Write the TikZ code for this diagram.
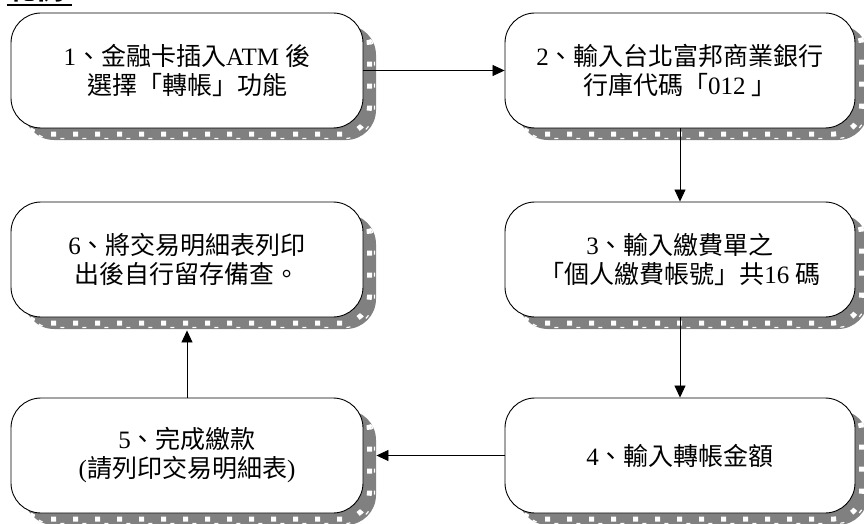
\documentclass[tikz,border=0pt]{standalone}
\usepackage{fontspec}
\setmainfont{Noto Sans CJK TC}
\newfontfamily\latf{Liberation Serif}
\newcommand\lt[1]{{\latf #1}}
\usetikzlibrary{arrows.meta,calc}
\definecolor{shadowgray}{HTML}{808080}
\tikzset{
  boxstyle/.style={draw=black, line width=0.9pt, fill=white, rounded corners=30pt,
    align=center, inner sep=0pt, font=\fontsize{25}{29}\selectfont},
  arr/.style={draw=black, line width=0.8pt, -{Triangle[length=12pt,width=11pt]}},
  shadowfill/.style={fill=shadowgray, rounded corners=30pt},
  filmsq/.style={draw=white, line width=5pt, dash pattern=on 5pt off 17pt, rounded corners=27pt},
  filmln/.style={draw=white, line width=1.2pt, dash pattern=on 4pt off 18pt, rounded corners=30pt}
}
\newcommand\flowbox[6]{%
  \fill[shadowfill] (#2+13,#3+12) rectangle (#4+13,#5+12);
  \draw[filmsq] (#2+6.5,#3+6) rectangle (#4+6.5,#5+6);
  \draw[filmln] (#2+11.5,#3+10.5) rectangle (#4+11.5,#5+10.5);
  \node[boxstyle, minimum width=#4-#2, minimum height=#5-#3] (#1) at ({(#2+#4)/2},{(#3+#5)/2}) {#6};
}
\begin{document}
\begin{tikzpicture}[x=1pt,y=-1pt]
\useasboundingbox (0,0) rectangle (864,524);
% cut-off title (only its lowest edge is visible)
\node[anchor=base west, inner sep=0pt, font=\fontsize{28}{28}\selectfont\bfseries] (title) at (8,-0.5) {範例};
\draw[line width=2pt] (7,5.5) -- (72,5.5);

\flowbox{b1}{11}{13}{363}{128}{\lt{1}、金融卡插入\lt{ATM }後\\選擇「轉帳」功能}
\flowbox{b2}{505}{13}{855}{128}{\lt{2}、輸入台北富邦商業銀行\\行庫代碼「\lt{012 }」}
\flowbox{b6}{11}{202}{363}{317}{\lt{6}、將交易明細表列印\\出後自行留存備查。}
\flowbox{b3}{505}{202}{855}{317}{\lt{3}、輸入繳費單之\\「個人繳費帳號」共\lt{16 }碼}
\flowbox{b5}{11}{398}{363}{513}{\lt{5}、完成繳款\\\lt{(}請列印交易明細表\lt{)}}
\flowbox{b4}{505}{398}{855}{513}{\lt{4}、輸入轉帳金額}

\draw[arr] (b1.east) -- (b2.west);
\draw[arr] (b2.south) -- (b3.north);
\draw[arr] (b3.south) -- (b4.north);
\coordinate (b5e) at ($(b5.east)+(13,0)$);
\draw[arr] (b4.west) -- (b5e);
\coordinate (b6s) at ($(b6.south)+(0,13)$);
\draw[arr] (b5.north) -- (b6s);
\end{tikzpicture}
\end{document}
